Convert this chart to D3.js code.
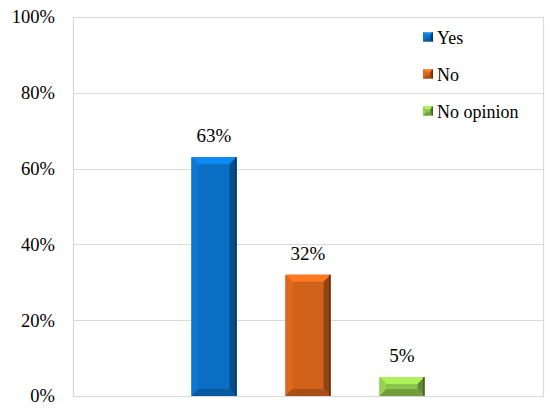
<!DOCTYPE html>
<html><head><meta charset="utf-8">
<script src="https://cdn.jsdelivr.net/npm/d3@7"></script>
<style>body{margin:0;background:#fff}svg{display:block}</style>
</head><body><svg id="c" width="550" height="412"></svg>
<script>
const series = ["Yes", "No", "No opinion"];
const values = [0.63, 0.32, 0.05];
const labels = ["63%", "32%", "5%"];
const colors = ["#0a6fc4", "#d0621c", "#8cc34b"];
const yTicks = [0, 0.2, 0.4, 0.6, 0.8, 1.0];
const FONT = "Liberation Serif, Tinos, Times New Roman, Liberation Sans, sans-serif";

const svg = d3.select("#c");
const L = 73, R = 543, T = 17, B = 396;
const y = d3.scaleLinear().domain([0, 1]).range([B, T]);
const x = d3.scaleBand().domain(series).range([167, 449]).paddingInner(0.52).paddingOuter(0.26);

svg.append("g").selectAll("line").data(yTicks).join("line")
  .attr("x1", L).attr("x2", R).attr("y1", d => Math.round(y(d)) + 0.5).attr("y2", d => Math.round(y(d)) + 0.5)
  .attr("stroke", "#d9d9d9").attr("stroke-width", 1.2);
svg.append("rect").attr("x", L + 0.5).attr("y", Math.round(T) + 0.5).attr("width", R - L).attr("height", B - T)
  .attr("fill", "none").attr("stroke", "#d9d9d9").attr("stroke-width", 1.2);

const yAxis = d3.axisLeft(y).tickValues(yTicks).tickFormat(d3.format(".0%")).tickSize(0).tickPadding(18);
const ga = svg.append("g").attr("transform", `translate(${L},0)`).call(yAxis);
ga.select(".domain").remove();
ga.attr("font-family", FONT);
ga.selectAll("text").attr("font-size", 18.5).attr("font-family", FONT).attr("fill", "#000");

function bevel(g, x0, y0, w, h, c, bv) {
  const base = d3.color(c);
  g.append("rect").attr("x", x0).attr("y", y0).attr("width", w).attr("height", h).attr("fill", c);
  const b = Math.min(bv, h / 2, w / 2);
  const x1 = x0 + w, y1 = y0 + h;
  g.append("polygon").attr("points", [[x0, y0], [x1, y0], [x1 - b, y0 + b], [x0 + b, y0 + b]].join(" "))
    .attr("fill", base.brighter(0.6));
  g.append("polygon").attr("points", [[x0, y0], [x0 + b, y0 + b], [x0 + b, y1 - b], [x0, y1]].join(" "))
    .attr("fill", base.brighter(0.2));
  g.append("polygon").attr("points", [[x1, y0], [x1, y1], [x1 - b, y1 - b], [x1 - b, y0 + b]].join(" "))
    .attr("fill", base.darker(1.0));
  g.append("polygon").attr("points", [[x0, y1], [x0 + b, y1 - b], [x1 - b, y1 - b], [x1, y1]].join(" "))
    .attr("fill", base.darker(0.6));
  g.append("rect").attr("x", x1 - 1.5).attr("y", y0).attr("width", 1.5).attr("height", h).attr("fill", base.darker(2));
}

const bars = svg.append("g");
series.forEach((s, i) => {
  bevel(bars, x(s), y(values[i]), x.bandwidth(), y(0) - y(values[i]), colors[i], 7);
});

svg.append("g").selectAll("text").data(series).join("text")
  .attr("x", d => x(d) + x.bandwidth() / 2)
  .attr("y", (d, i) => y(values[i]) - 15)
  .attr("text-anchor", "middle")
  .attr("font-size", 19).attr("font-family", FONT).attr("fill", "#000")
  .text((d, i) => labels[i]);

const lg = svg.append("g");
series.forEach((s, i) => {
  const ly = 37 + i * 37;
  const sg = lg.append("g");
  bevel(sg, 423, ly - 4.5, 10, 9, colors[i], 3);
  lg.append("text").attr("x", 437).attr("y", ly + 6.5)
    .attr("font-size", 18).attr("font-family", FONT).attr("fill", "#000").text(s);
});
</script></body></html>
